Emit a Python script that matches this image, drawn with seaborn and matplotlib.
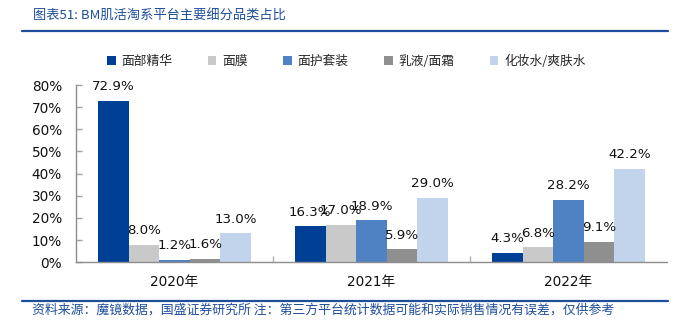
import matplotlib
matplotlib.use("Agg")
import matplotlib.pyplot as plt
from matplotlib.patches import Patch
from matplotlib.ticker import FixedLocator
import pandas as pd
import seaborn as sns

years = ["2020年", "2021年", "2022年"]
categories = ["面部精华", "面膜", "面护套装", "乳液/面霜", "化妆水/爽肤水"]
share_2020 = [72.9, 8.0, 1.2, 1.6, 13.0]
share_2021 = [16.3, 17.0, 18.9, 5.9, 29.0]
share_2022 = [4.3, 6.8, 28.2, 9.1, 42.2]
yticks = [0, 10, 20, 30, 40, 50, 60, 70, 80]
colors = ["#003f96", "#c9c9c9", "#4f82c3", "#8f8f8f", "#c2d4eb"]

title = "图表51: BM肌活淘系平台主要细分品类占比"
source = "资料来源：魔镜数据，国盛证券研究所 注：第三方平台统计数据可能和实际销售情况有误差，仅供参考"

rows = []
for year, vals in zip(years, [share_2020, share_2021, share_2022]):
    for cat, v in zip(categories, vals):
        rows.append({"year": year, "category": cat, "share": v})
df = pd.DataFrame(rows)

sns.set_theme(style="white")
plt.rcParams["font.family"] = ["DejaVu Sans", "Noto Sans CJK SC"]

fig = plt.figure(figsize=(6.75, 3.22), dpi=100)
ax = fig.add_axes([0.1126, 0.1854, 0.8755, 0.5506])

sns.barplot(data=df, x="year", y="share", hue="category", order=years,
            hue_order=categories, palette=colors, width=0.777, gap=0,
            saturation=1, ax=ax, legend=False, edgecolor="none")

for cont in ax.containers:
    ax.bar_label(cont, fmt="%.1f%%", padding=5.5, fontsize=9.6, color="#111111")

ax.set_xlim(-0.5, 2.5)
ax.set_ylim(0, 80)
ax.set_yticks(yticks)
ax.set_yticklabels([f"{t}%" for t in yticks], fontsize=9.8, color="#111111")
ax.set_xticks(range(len(years)))
ax.set_xticklabels(years, fontsize=9.8, color="#111111")
ax.xaxis.set_minor_locator(FixedLocator([0.5, 1.5]))
ax.tick_params(axis="x", which="major", length=0, pad=9)
ax.tick_params(axis="x", which="minor", direction="in", length=4, color="#b0b0b0", width=1, bottom=True)
ax.tick_params(axis="y", which="major", direction="in", length=4, color="#a0a0a0", width=1, left=True, pad=10)
ax.set_xlabel("")
ax.set_ylabel("")
for side in ["top", "right"]:
    ax.spines[side].set_visible(False)
for side in ["left", "bottom"]:
    ax.spines[side].set_color("#8c8c8c")
    ax.spines[side].set_linewidth(1)

handles = [Patch(facecolor=c, edgecolor="none") for c in colors]
fig.legend(handles, categories, loc="center left", bbox_to_anchor=(0.159, 0.81),
           ncol=5, frameon=False, handlelength=0.65, handleheight=0.65,
           handletextpad=0.45, columnspacing=2.8, borderaxespad=0, borderpad=0,
           prop={"family": ["Noto Sans CJK SC"], "size": 9.2})

blue = "#1f4e9a"
fig.text(0.049, 1 - 16 / 322, title, fontsize=9.5, color=blue, va="center", ha="left",
         family=["Noto Sans CJK SC"], style="italic")
fig.text(0.048, 1 - 310 / 322, source, fontsize=9.3, color=blue, va="center", ha="left",
         family=["Noto Sans CJK SC"], style="italic")
fig.add_artist(plt.Line2D([0.0326, 0.99], [1 - 31 / 322, 1 - 31 / 322], color="#1f4e9a", lw=1.6))
fig.add_artist(plt.Line2D([0.0326, 0.99], [1 - 300.5 / 322, 1 - 300.5 / 322], color="#1f4e9a", lw=1.6))

fig.savefig("out.png", dpi=100)
